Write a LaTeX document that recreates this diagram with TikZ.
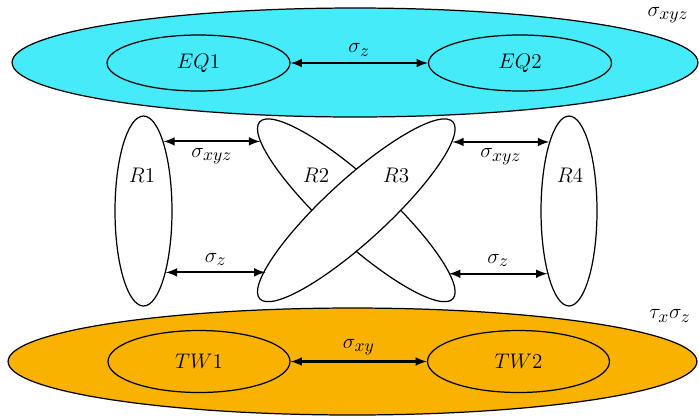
\documentclass[tikz,border=0pt]{standalone}
\usepackage{amsmath}
\usepackage{tikz}
\usetikzlibrary{shapes.geometric}
\DeclareMathSizes{12}{12}{10}{7}
\definecolor{eqcyan}{RGB}{70,235,250}
\definecolor{tworange}{RGB}{250,178,0}

\begin{document}
\begin{tikzpicture}[x=0.02cm, y=-0.02cm,
    oval/.style={ellipse, draw, line width=0.7pt, inner sep=0pt},
    link/.style={<->, >=latex, line width=1.2pt}]
        \useasboundingbox (0,0) rectangle (699,417);
        % the two outer regions
        \node[oval, fill=eqcyan, minimum width=13.72cm, minimum height=2.18cm] (eq) at (355,62.5) {};
        \node[oval, fill=tworange, minimum width=13.78cm, minimum height=2.14cm] (tw) at (352.5,361.5) {};
        \node (eqsym) at (668,15) {\large $\sigma_{xyz}$};
        \node (twsym) at (670,316) {\large $\tau_x\sigma_z$};
        \node[oval, minimum width=3.66cm, minimum height=1.12cm] (eq1) at (198.5,63) {\large $EQ1$};
        \node[oval, minimum width=3.66cm, minimum height=1.12cm] (eq2) at (520,63) {\large $EQ2$};
        \node[oval, minimum width=3.64cm, minimum height=1.24cm] (tw1) at (199,361.5) {\large $TW1$};
        \node[oval, minimum width=3.64cm, minimum height=1.24cm] (tw2) at (518.5,361.5) {\large $TW2$};
        % the four middle regions
        \node[oval, minimum width=1.14cm, minimum height=3.8cm] (r1) at (143.5,211) {};
        \node[oval, minimum width=1.12cm, minimum height=3.8cm] (r4) at (569,211) {};
        \node[oval, fill=white, rotate=-42.5, minimum width=5.24cm, minimum height=1.24cm] (r2) at (356.3,210.3) {};
        \node[oval, fill=white, rotate=42.5, minimum width=5.24cm, minimum height=1.24cm] (r3) at (356.3,210.3) {};
        \node (r1lab) at (142,175) {\large $R1$};
        \node (r2lab) at (316,175) {\large $R2$};
        \node (r3lab) at (396,175) {\large $R3$};
        \node (r4lab) at (570,175) {\large $R4$};
        % symmetries between regions
        \draw[link] (eq1) -- node[midway, above] (eqop) {\large $\sigma_z$} (eq2);
        \draw[link] (tw1) -- node[midway, above] (twop) {\large $\sigma_{xy}$} (tw2);
        \draw[link] (r1.74) -- node[midway, below] (op12) {\large $\sigma_{xyz}$} (r1.74 -| r2.187);
        \draw[link] (r1.-70) -- node[midway, above] (op13) {\large $\sigma_z$} (r1.-70 -| r3.170);
        \draw[link] (r3.353 |- r4.106) -- node[midway, below] (op34) {\large $\sigma_{xyz}$} (r4.106);
        \draw[link] (r2.9 |- r4.251) -- node[midway, above] (op24) {\large $\sigma_z$} (r4.251);
      \end{tikzpicture}
\end{document}
